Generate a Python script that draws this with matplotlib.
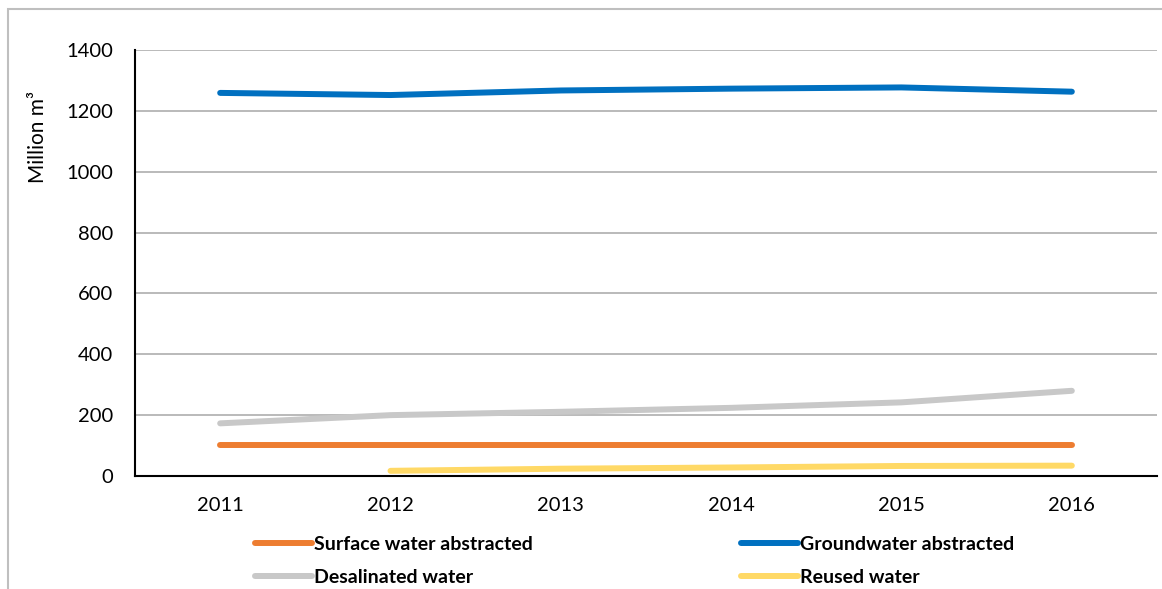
import matplotlib.pyplot as plt
from matplotlib.patches import Rectangle

plt.rcParams['font.family'] = ['Lato', 'DejaVu Sans']

years = [2011, 2012, 2013, 2014, 2015, 2016]
surface = [103, 103, 103, 103, 103, 103]
ground = [1259, 1252, 1267, 1273, 1277, 1263]
desal = [173, 200, 211, 224, 242, 280]
reuse_years = [2012, 2013, 2014, 2015, 2016]
reuse = [17, 24, 28, 33, 34]

W, H = 1162, 589
fig = plt.figure(figsize=(W / 100, H / 100), dpi=100)
ax = fig.add_axes([135 / W, 1 - 476 / H, (1157 - 135) / W, (476 - 50) / H])

# outer chart frame (cut at right/bottom like the screenshot)
fig.patches.append(Rectangle((8 / W, -0.1), 1.2, 1 - 9 / H + 0.1, transform=fig.transFigure,
                             fill=False, edgecolor='#bfbfbf', linewidth=1.5))

lw = 4.3
l1, = ax.plot(years, surface, color='#ED7D31', lw=lw, solid_capstyle='round', label='Surface water abstracted')
l2, = ax.plot(years, ground, color='#0070C0', lw=lw, solid_capstyle='round', label='Groundwater abstracted')
l3, = ax.plot(years, desal, color='#C8C8C8', lw=lw, solid_capstyle='round', label='Desalinated water')
l4, = ax.plot(reuse_years, reuse, color='#FFD966', lw=lw, solid_capstyle='round', label='Reused water')

ax.set_xlim(2010.5, 2016.5)
ax.set_ylim(0, 1400)
ax.set_yticks(range(0, 1401, 200))
ax.set_xticks(years)
ax.grid(axis='y', color='#b4b4b4', linewidth=1.3)
ax.set_axisbelow(True)
for s in ['top', 'right']:
    ax.spines[s].set_visible(False)
for s in ['left', 'bottom']:
    ax.spines[s].set_linewidth(1.5)
ax.tick_params(length=0, labelsize=14.5, pad=16)
ax.tick_params(axis='x', pad=15)

fig.text(38 / W, 1 - 137 / H, 'Million m³', rotation=90, ha='center', va='center', fontsize=15)

leg = fig.legend([l1, l3, l2, l4], [l.get_label() for l in [l1, l3, l2, l4]],
                 ncol=2, loc='center left', bbox_to_anchor=(237 / W, 1 - 561 / H),
                 frameon=False, handlelength=2.95, handletextpad=0.1, columnspacing=10.72,
                 labelspacing=0.8, prop={'weight': 'bold', 'size': 14})

fig.savefig('out.png', dpi=100)
